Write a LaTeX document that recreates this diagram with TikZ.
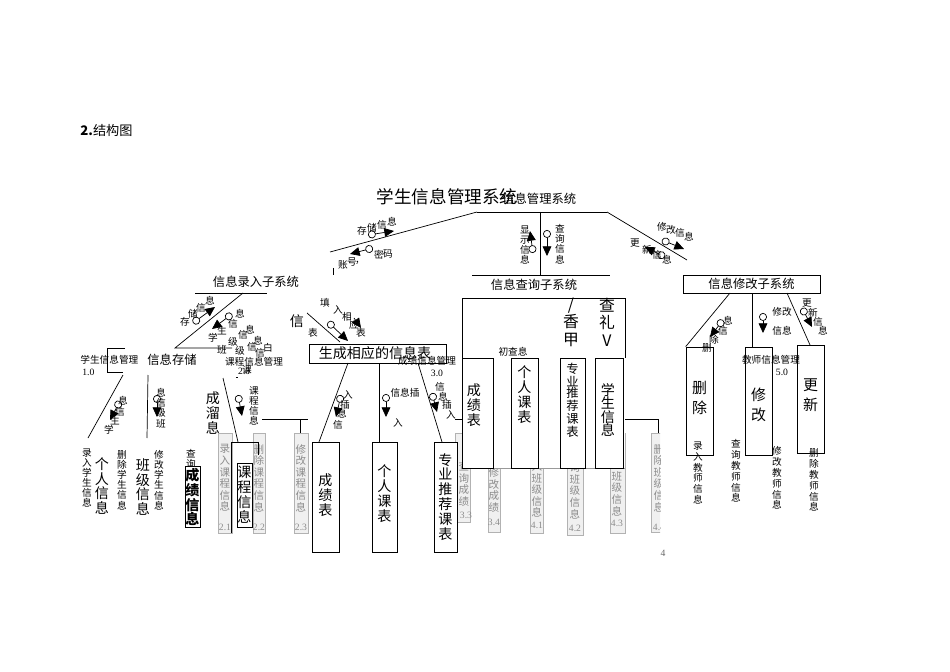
\documentclass[tikz,border=0pt]{standalone}
\usepackage{fontspec}
\setmainfont{Noto Sans CJK SC}
\newfontfamily\numfont{Liberation Serif}
\usetikzlibrary{arrows.meta}

\tikzset{
  lbl/.style={inner sep=0pt, font=\fontsize{5.5}{6.5}\selectfont},
  sys/.style={inner sep=0pt, font=\fontsize{7}{8}\selectfont},
  vsmall/.style={inner sep=0pt, align=center, font=\fontsize{5.5}{5.8}\selectfont},
  vmid/.style={inner sep=0pt, align=center, font=\fontsize{6}{6.6}\selectfont},
  vbig/.style={inner sep=0pt, align=center, font=\fontsize{8}{8.5}\selectfont},
  vwide/.style={inner sep=0pt, align=center, font=\fontsize{8.5}{11.4}\selectfont},
  greytxt/.style={text=black!45},
  tbl/.style={draw, fill=white, inner sep=0pt},
  col/.style={draw=black!30, fill=black!6},
  flow/.style={{Circle[open,length=4.5pt,width=4.5pt]}-{Triangle[length=5.5pt,width=5pt]}, line width=0.4pt},
}

\begin{document}
\begin{tikzpicture}[x=0.02cm, y=-0.02cm]
\useasboundingbox (0,0) rectangle (950,672);

% heading
\node[inner sep=0pt, font=\fontsize{7.5}{9}\selectfont, anchor=west] (head) at (80,130) {\textbf{2.}结构图};

% top level
\node[inner sep=0pt, font=\fontsize{10}{12}\selectfont] (title) at (447,197) {学生信息管理系统};
\node[inner sep=0pt, font=\fontsize{7}{8}\selectfont, anchor=west] (title2) at (502,199) {信息管理系统};

\coordinate (topL) at (477,212);
\coordinate (topR) at (607,212);
\coordinate (topM) at (540,212);
\draw (topL) -- (topR);
\draw (topL) -- (330,252);
\draw (topR) -- (687,260);
\draw (topM) -- (540,275);
\draw (472,275) -- (610,275);
\draw (333,268) -- (333,275);

% flows of the top level
\draw[flow] (368,235) -- (394,231);
\foreach \x/\y/\c in {362/231/存, 372/228/储, 382/225/信, 392/222/息}
  \node[lbl] at (\x,\y) {\c};
\draw[flow] (373,248) -- (350,254);
\foreach \x/\y/\c in {343/265/账, 352/262/号, 360/263/，, 379/255/密, 388/254/码}
  \node[lbl] at (\x,\y) {\c};
\draw[flow] (533,253) -- (530,231);
\node[vsmall] at (525,245) {显\\示\\信\\息};
\draw[flow] (547,230) -- (547,256);
\node[vsmall] at (560,244) {查\\询\\信\\息};
\draw[flow] (662,240) -- (684,249);
\foreach \x/\y/\c in {662/227/修, 671/230/改, 680/233/信, 689/237/息}
  \node[lbl] at (\x,\y) {\c};
\draw[flow] (665,257) -- (645,247);
\foreach \x/\y/\c in {635/243/更, 647/250/新, 657/255/信, 667/260/息}
  \node[lbl] at (\x,\y) {\c};

% sub systems
\node[sys] (sysIn) at (256,282) {信息录入子系统};
\draw (195,293) -- (267,293);
\node[sys] (sysQry) at (534,285) {信息查询子系统};
\node[sys, draw, minimum width=2.74cm, minimum height=0.36cm] (sysMod) at (751.5,284) {信息修改子系统};

%%% 信息录入子系统
\draw (243,293) -- (175,348) -- (232,348);
\draw[flow] (193,323) -- (215,307);
\foreach \x/\y/\c in {185/322/存, 193/314/储, 201/308/信, 210/301/息}
  \node[lbl] at (\x,\y) {\c};
\draw[flow] (232,314) -- (212,329);
\foreach \x/\y/\c in {240/314/息, 233/324/信, 222/331/生, 213/338/学,
                      250/330/息, 243/335/信, 233/342/级, 222/350/班,
                      258/341/息, 252/347/信, 240/351/级, 268/348/白, 260/353/信, 247/370/课}
  \node[lbl] at (\x,\y) {\c};

% 1.0
\node[lbl, anchor=west] (m1) at (80,360) {学生信息管理};
\node[lbl, anchor=west] at (82,372) {\numfont 1.0};
\draw (125,348) -- (107,348) -- (107,372) -- (123,372);
\draw (123,375) -- (88,438);
\node[sys] (store) at (172,360) {信息存储};
\draw (148,375) -- (147,438);
\draw[flow] (120,401) -- (110,420);
\foreach \x/\y/\c in {123/401/息, 120/412/信, 115/421/生, 109/430/学}
  \node[lbl] at (\x,\y) {\c};
\draw[flow] (157,395) -- (157,417);
\node[vsmall] at (161,408) {息\\信\\级\\班};

\node[vsmall] at (87,478) {录\\入\\学\\生\\信\\息};
\node[vbig] at (102,486) {个\\人\\信\\息};
\node[vsmall] at (122,480) {删\\除\\学\\生\\信\\息};
\node[vbig] at (143,487) {班\\级\\信\\息};
\node[vsmall] at (159,480) {修\\改\\学\\生\\信\\息};
\node[vsmall] at (191,459) {查\\询};
\node[tbl, minimum width=0.3cm, minimum height=1.22cm] (score1) at (192.5,496.5) {};
\node[vbig] at (192.5,497) {\textbf{成}\\\textbf{绩}\\\textbf{信}\\\textbf{息}};

% 2.0
\node[lbl] (m2) at (254,362) {课程信息管理};
\node[lbl] at (243,373) {\numfont\underline{\ }2.0};
\draw (223,378) -- (238,442);
\node[vbig] at (213,413) {成\\溜\\息};
\draw[flow] (238,395) -- (242,416);
\node[vsmall] at (254,406) {课\\程\\信\\息};
\draw (262,419) -- (308,419);
\draw (300,419) -- (300,433);

\draw[col] (218,433) rectangle (232,533);
\node[vmid, greytxt] at (225,478) {录\\入\\课\\程\\信\\息};
\node[lbl, greytxt] at (225,527) {\numfont 2.1};
\draw[col] (253,433) rectangle (265,533);
\node[vmid, greytxt] at (259,478) {删\\除\\课\\程\\信\\息};
\node[lbl, greytxt] at (259,527) {\numfont 2.2};
\draw[col] (294,433) rectangle (308,533);
\node[vmid, greytxt] at (301,478) {修\\改\\课\\程\\信\\息};
\node[lbl, greytxt] at (301,527) {\numfont 2.3};

\draw (231,533) -- (231,442) -- (258,442) -- (258,455);
\node[tbl, minimum width=0.3cm, minimum height=1.28cm] (course) at (244.5,495) {};
\node[vbig] at (244.5,495) {课\\程\\信\\息};

%%% 生成相应的信息表
\draw (307,313) -- (340,342);
\node[inner sep=0pt, font=\fontsize{8}{9}\selectfont] at (297,321) {信};
\node[lbl] at (313,333) {表};
\draw[flow] (328,322) -- (348,341);
\draw[-{Triangle[length=5.5pt,width=5pt]}] (354,318) -- (361,328);
\foreach \x/\y/\c in {325/303/填, 338/310/入, 347/317/相, 354/325/应, 361/333/表}
  \node[lbl] at (\x,\y) {\c};

\node[draw, fill=white, inner sep=0pt, minimum width=2.74cm, minimum height=0.38cm] (gen) at (377.5,353.5) {};
\node[inner sep=0pt, font=\fontsize{8}{9}\selectfont] at (375,353) {生成相应的信息表};
\node[lbl] (m3) at (427,361) {成绩信息管理};
\node[lbl] at (437,373) {\numfont 3.0};

\draw (348,363) -- (319,442);
\draw (379,363) -- (379,442);
\draw (418,363) -- (442,442);
\draw[flow] (341,395) -- (336,417);
\foreach \x/\y/\c in {348/395/入, 345/405/插, 342/414/息, 338/425/信}
  \node[lbl] at (\x,\y) {\c};
\draw[flow] (386,394) -- (386,417);
\node[lbl] at (405,393) {信息插};
\node[lbl] at (398,423) {入};
\draw[flow] (432,393) -- (437,412);
\foreach \x/\y/\c in {440/387/信, 443/397/息, 447/405/插, 451/415/入}
  \node[lbl] at (\x,\y) {\c};

% columns behind the query part
\draw[col] (455,433) rectangle (470,522);
\node[vmid, greytxt] at (464,484) {查\\询\\成\\绩};
\node[lbl, greytxt] at (466,515) {\numfont 3.3};
\draw[col] (488,433) rectangle (500,532);
\node[vmid, greytxt] at (494,490) {修\\改\\成\\绩};
\node[lbl, greytxt] at (494,522) {\numfont 3.4};
\draw[col] (530,433) rectangle (543,533);
\node[vmid, greytxt] at (537,484) {录\\入\\班\\级\\信\\息};
\node[lbl, greytxt] at (537,525) {\numfont 4.1};
\draw[col] (567,433) rectangle (583,535);
\node[vmid, greytxt] at (575,485) {查\\询\\班\\级\\信\\息};
\node[lbl, greytxt] at (575,528) {\numfont 4.2};
\draw[col] (610,433) rectangle (625,533);
\node[vmid, greytxt] at (617,482) {修\\改\\班\\级\\信\\息};
\node[lbl, greytxt] at (617,523) {\numfont 4.3};
\begin{scope}
  \clip (640,400) rectangle (660,560);
  \draw[col] (651,433) rectangle (667,532);
  \node[vmid, greytxt] at (659,478) {删\\除\\班\\级\\信\\息};
  \node[lbl, greytxt] at (659,527) {\numfont 4.4};
\end{scope}
\draw (623,419) -- (658,419) -- (658,433);
\draw (455,419) -- (462,419);

% the three tables
\node[tbl, minimum width=0.54cm, minimum height=2.2cm] (tScore) at (325.5,497) {};
\node[vbig] at (325.5,495) {成\\绩\\表};
\node[tbl, minimum width=0.5cm, minimum height=2.2cm] (tCourse) at (384.5,497) {};
\node[vbig] at (384.5,494) {个\\人\\课\\表};
\node[tbl, minimum width=0.46cm, minimum height=2.2cm] (tRec) at (445.5,497) {};
\node[vbig] at (445.5,497) {专\\业\\推\\荐\\课\\表};

%%% 信息查询子系统
\fill[white] (462,298) rectangle (625,468);
\draw (462,468) -- (462,298) -- (625,298) -- (625,358);
\draw[black!40] (462,468) -- (625,468);
\node[inner sep=0pt, align=center, font=\fontsize{9}{10}\selectfont] at (571,322) {/\\香\\甲};
\node[inner sep=0pt, align=center, font=\fontsize{9}{10}\selectfont] at (607,322) {查\\礼\\V};
\node[lbl] at (513,352) {初查息};
\node[tbl, minimum width=0.62cm, minimum height=2.2cm] (qScore) at (477.5,413) {};
\node[vbig] at (474,405) {成\\绩\\表};
\node[tbl, minimum width=0.54cm, minimum height=2.2cm] (qCourse) at (524.5,413) {};
\node[vbig] at (524.5,395) {个\\人\\课\\表};
\node[tbl, minimum width=0.5cm, minimum height=2.2cm] (qRec) at (572.5,413) {};
\node[inner sep=0pt, align=center, font=\fontsize{7}{6.3}\selectfont] at (572.5,400) {专\\业\\推\\荐\\课\\表};
\node[tbl, minimum width=0.56cm, minimum height=2.2cm] (qStu) at (609,413) {};
\node[vbig, font=\fontsize{8}{7.6}\selectfont] at (608,410) {学\\生\\信\\息};

%%% 信息修改子系统
\node[tbl, minimum width=0.54cm, minimum height=2.16cm] (mDel) at (699.5,401) {};
\node[vwide] at (699.5,398) {删\\除};
\node[tbl, minimum width=0.54cm, minimum height=2.16cm] (mMod) at (758.5,401) {};
\node[vwide] at (758.5,405) {修\\改};
\node[tbl, minimum width=0.54cm, minimum height=2.16cm] (mUpd) at (810.5,399) {};
\node[vwide] at (810.5,395) {更\\新};
\draw (730,293) -- (mDel.north west);
\draw (752,293) -- (752,347);
\draw (787,293) -- (810,345);

\draw[flow] (723,320) -- (710,337);
\foreach \x/\y/\c in {728/321/息, 723/331/信, 714/340/除, 707/348/删}
  \node[lbl] at (\x,\y) {\c};
\draw[flow] (763,313) -- (763,333);
\node[lbl] at (782,312) {修改};
\node[lbl] at (782,331) {信息};
\draw[flow] (802,308) -- (812,327);
\foreach \x/\y/\c in {807/303/更, 813/313/新, 818/322/信, 823/331/息}
  \node[lbl] at (\x,\y) {\c};
\node[lbl] (m5) at (771,360) {教师信息管理};
\node[lbl] at (782,372) {\numfont 5.0};

\node[vsmall, font=\fontsize{5.5}{6.2}\selectfont] at (698,473) {录\\入\\教\\师\\信\\息};
\node[vsmall, font=\fontsize{5.5}{6.2}\selectfont] at (736,471) {查\\询\\教\\师\\信\\息};
\node[vsmall, font=\fontsize{5.5}{6.2}\selectfont] at (777,478) {修\\改\\教\\师\\信\\息};
\node[vsmall, font=\fontsize{5.5}{6.2}\selectfont] at (814,480) {删\\除\\教\\师\\信\\息};

% page number
\node[lbl, text=black!60] at (663,553) {\numfont 4};
\end{tikzpicture}
\end{document}
